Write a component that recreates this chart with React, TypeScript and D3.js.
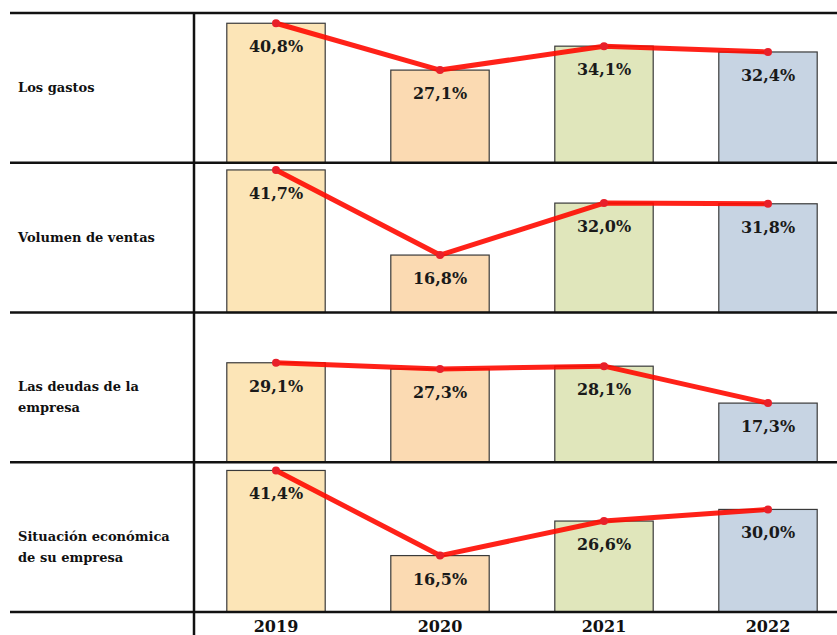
import React, { useEffect, useRef } from 'react';
import * as d3 from 'd3';

const years = ['2019', '2020', '2021', '2022'];
const rowLabels = [
  ['Los gastos'],
  ['Volumen de ventas'],
  ['Las deudas de la', 'empresa'],
  ['Situación económica', 'de su empresa'],
];
const gastos = [40.8, 27.1, 34.1, 32.4];
const ventas = [41.7, 16.8, 32.0, 31.8];
const deudas = [29.1, 27.3, 28.1, 17.3];
const situacion = [41.4, 16.5, 26.6, 30.0];
const barColors = ['#fce5b7', '#fbdab2', '#e0e6bb', '#c7d4e3'];

const W = 837;
const H = 635;

export default function App() {
  const ref = useRef<SVGSVGElement | null>(null);

  useEffect(() => {
    if (!ref.current) return;
    const svg = d3.select(ref.current);
    svg.selectAll('*').remove();

    const series = [gastos, ventas, deudas, situacion];
    const top = 13, rowH = 149.75, leftX = 194;

    const x = d3.scaleBand<string>()
      .domain(years)
      .range([leftX, 850])
      .paddingInner(0.4)
      .paddingOuter(0.2);
    const y = d3.scaleLinear().domain([0, 43.8]).range([rowH, 0]);

    const font = '"DejaVu Serif", serif';

    series.forEach((vals, r) => {
      const g = svg.append('g').attr('transform', `translate(0,${top + r * rowH})`);

      g.selectAll('rect')
        .data(vals)
        .enter().append('rect')
        .attr('x', (_, i) => x(years[i])!)
        .attr('y', d => y(d))
        .attr('width', x.bandwidth())
        .attr('height', d => rowH - y(d))
        .attr('fill', (_, i) => barColors[i])
        .attr('stroke', '#3a3a3a')
        .attr('stroke-width', 1.2);

      const cx = (i: number) => x(years[i])! + x.bandwidth() / 2;
      const line = d3.line<number>()
        .x((_, i) => cx(i))
        .y(d => y(d));

      g.append('path')
        .datum(vals)
        .attr('d', line)
        .attr('fill', 'none')
        .attr('stroke', '#ff0a00')
        .attr('stroke-opacity', 0.9)
        .attr('stroke-width', 5)
        .attr('stroke-linejoin', 'round');

      g.selectAll('circle')
        .data(vals)
        .enter().append('circle')
        .attr('cx', (_, i) => cx(i))
        .attr('cy', d => y(d))
        .attr('r', 4)
        .attr('fill', '#e8202a');

      g.selectAll('text.val')
        .data(vals)
        .enter().append('text')
        .attr('class', 'val')
        .attr('x', (_, i) => cx(i))
        .attr('y', d => y(d) + 29)
        .attr('text-anchor', 'middle')
        .style('font-family', font)
        .style('font-weight', 'bold')
        .style('font-size', '16px')
        .style('fill', '#1a1a1a')
        .text(d => d.toFixed(1).replace('.', ',') + '%');

      const lab = rowLabels[r];
      lab.forEach((t, k) => {
        g.append('text')
          .attr('x', 18)
          .attr('y', rowH / 2 + 4 + k * 21)
          .style('font-family', font)
          .style('font-weight', 'bold')
          .style('font-size', '13px')
          .style('fill', '#111')
          .text(t);
      });
    });

    // grid lines
    d3.range(5).forEach(i => {
      svg.append('line')
        .attr('x1', 10).attr('x2', W)
        .attr('y1', top + i * rowH).attr('y2', top + i * rowH)
        .attr('stroke', '#111')
        .attr('stroke-width', 2.5);
    });
    svg.append('line')
      .attr('x1', leftX).attr('x2', leftX)
      .attr('y1', top).attr('y2', H)
      .attr('stroke', '#111')
      .attr('stroke-width', 2.5);

    svg.selectAll('text.year')
      .data(years)
      .enter().append('text')
      .attr('class', 'year')
      .attr('x', d => x(d)! + x.bandwidth() / 2)
      .attr('y', 632)
      .attr('text-anchor', 'middle')
      .style('font-family', font)
      .style('font-weight', 'bold')
      .style('font-size', '16px')
      .style('fill', '#111')
      .text(d => d);
  }, []);

  return (
    <div style={{ position: 'absolute', left: 0, top: 0, width: W, height: H, background: '#fff' }}>
      <svg ref={ref} width={W} height={H} style={{ display: 'block' }} />
    </div>
  );
}
